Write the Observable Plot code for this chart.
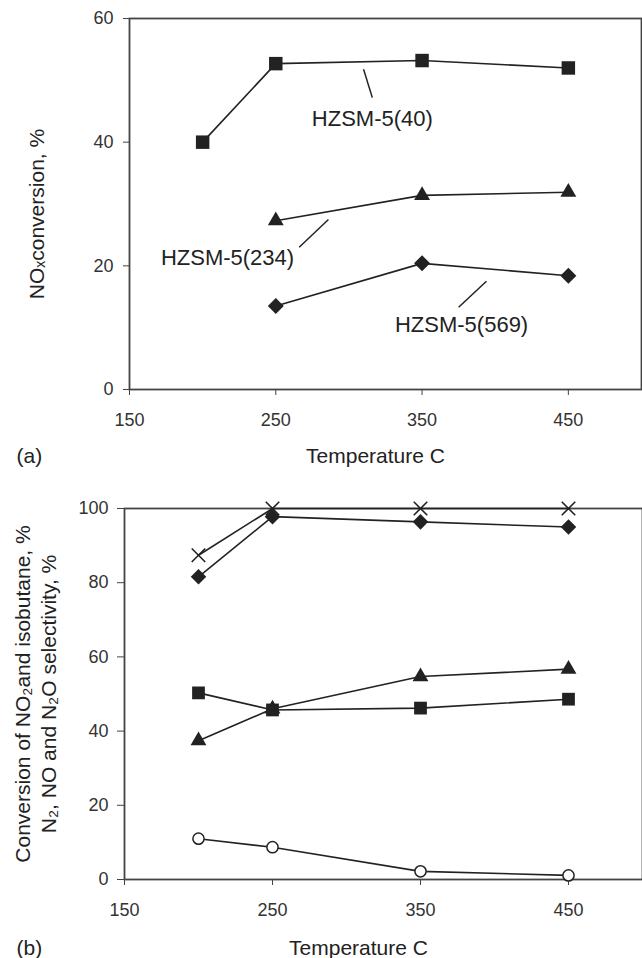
<!DOCTYPE html>
<html>
<head>
<meta charset="utf-8">
<script src="https://cdn.jsdelivr.net/npm/d3@7"></script>
<script src="https://cdn.jsdelivr.net/npm/@observablehq/plot@0.6"></script>
<style>
  html, body { margin: 0; padding: 0; background: #fff; }
  #chart svg { display: block; }
</style>
</head>
<body>
<div id="chart"></div>
<script>
// ---------- Panel (a): NOx conversion ----------
const xTicks = [150, 250, 350, 450];
const yTicksA = [0, 20, 40, 60];
const tempA40 = [200, 250, 350, 450];
const noxA40 = [40.0, 52.7, 53.2, 52.0];
const tempA234 = [250, 350, 450];
const noxA234 = [27.3, 31.4, 31.9];
const tempA569 = [250, 350, 450];
const noxA569 = [13.5, 20.4, 18.4];
const labelNames = ["HZSM-5(40)", "HZSM-5(234)", "HZSM-5(569)"];
const labelX = [316, 217, 377];
const labelY = [43.8, 21.3, 10.4];
const leadX1 = [310, 286, 394];
const leadY1 = [51.8, 27.5, 17.5];
const leadX2 = [316, 266, 375];
const leadY2 = [47.2, 23.0, 13.3];

// ---------- Panel (b): conversions & selectivities ----------
const yTicksB = [0, 20, 40, 60, 80, 100];
const tempB = [200, 250, 350, 450];
const crossB = [87.4, 100, 100, 100];
const diamondB = [81.6, 97.8, 96.4, 95.0];
const triangleB = [37.4, 46.0, 54.7, 56.7];
const squareB = [50.3, 45.7, 46.2, 48.6];
const circleB = [11.0, 8.7, 2.2, 1.1];

const ink = "#222";
const font = "'Liberation Sans', Arial, Helvetica, sans-serif";

function series(xs, ys) { return xs.map((x, i) => ({x, y: ys[i]})); }

const sA40 = series(tempA40, noxA40);
const sA234 = series(tempA234, noxA234);
const sA569 = series(tempA569, noxA569);
const ann = labelNames.map((t, i) => ({t, x: labelX[i], y: labelY[i], x1: leadX1[i], y1: leadY1[i], x2: leadX2[i], y2: leadY2[i]}));

const plotA = Plot.plot({
  width: 642, height: 478,
  marginLeft: 129, marginRight: 1, marginTop: 18, marginBottom: 89,
  x: {domain: [150, 500]},
  y: {domain: [0, 60]},
  style: {fontFamily: font, fontSize: "18px", color: "#333", background: "white", overflow: "visible"},
  marks: [
    Plot.frame({stroke: "#444", strokeWidth: 1.8}),
    Plot.axisX({ticks: xTicks, tickSize: 6, tickPadding: 18, label: null, fontSize: 18, stroke: "#444"}),
    Plot.axisY({ticks: yTicksA, tickSize: 6, tickPadding: 10, label: null, fontSize: 18, stroke: "#444"}),
    Plot.line(sA40, {x: "x", y: "y", stroke: ink, strokeWidth: 1.6}),
    Plot.line(sA234, {x: "x", y: "y", stroke: ink, strokeWidth: 1.6}),
    Plot.line(sA569, {x: "x", y: "y", stroke: ink, strokeWidth: 1.6}),
    Plot.dot(sA40, {x: "x", y: "y", symbol: "square", r: 7.6, fill: ink, stroke: "none"}),
    Plot.dot(sA234, {x: "x", y: "y", symbol: "triangle", r: 5.9, fill: ink, stroke: "none"}),
    Plot.dot(sA569, {x: "x", y: "y", symbol: "diamond2", r: 7.2, fill: ink, stroke: "none"}),
    Plot.link(ann, {x1: "x1", y1: "y1", x2: "x2", y2: "y2", stroke: ink, strokeWidth: 1.5}),
    Plot.text(ann, {x: "x", y: "y", text: "t", fontSize: 22, fill: ink}),
    Plot.text(["NOₓconversion, %"], {frameAnchor: "left", textAnchor: "middle", lineAnchor: "middle", rotate: -90, dx: -92, dy: 10, fontSize: 21, fill: ink}),
    Plot.text(["Temperature C"], {frameAnchor: "bottom", textAnchor: "middle", lineAnchor: "middle", dx: -10, dy: 67, fontSize: 21, fill: ink}),
    Plot.text(["(a)"], {frameAnchor: "bottom-left", textAnchor: "start", lineAnchor: "middle", dx: -113, dy: 67, fontSize: 21, fill: ink})
  ]
});

const sCross = series(tempB, crossB);
const sDiam = series(tempB, diamondB);
const sTri = series(tempB, triangleB);
const sSq = series(tempB, squareB);
const sCirc = series(tempB, circleB);

const plotB = Plot.plot({
  width: 642, height: 480,
  marginLeft: 124, marginRight: 0, marginTop: 30, marginBottom: 79,
  x: {domain: [150, 500]},
  y: {domain: [0, 100]},
  style: {fontFamily: font, fontSize: "18px", color: "#333", background: "white", overflow: "visible"},
  marks: [
    Plot.frame({stroke: "#444", strokeWidth: 1.8}),
    Plot.axisX({ticks: xTicks, tickSize: 6, tickPadding: 18, label: null, fontSize: 18, stroke: "#444"}),
    Plot.axisY({ticks: yTicksB, tickSize: 7, tickPadding: 9, label: null, fontSize: 18, stroke: "#444"}),
    Plot.line(sCross, {x: "x", y: "y", stroke: ink, strokeWidth: 1.6}),
    Plot.line(sDiam, {x: "x", y: "y", stroke: ink, strokeWidth: 1.6}),
    Plot.line(sTri, {x: "x", y: "y", stroke: ink, strokeWidth: 1.6}),
    Plot.line(sSq, {x: "x", y: "y", stroke: ink, strokeWidth: 1.6}),
    Plot.line(sCirc, {x: "x", y: "y", stroke: ink, strokeWidth: 1.6}),
    Plot.dot(sCross, {x: "x", y: "y", symbol: "times", r: 6.2, stroke: ink, strokeWidth: 1.6}),
    Plot.dot(sDiam, {x: "x", y: "y", symbol: "diamond2", r: 7.0, fill: ink, stroke: "none"}),
    Plot.dot(sTri, {x: "x", y: "y", symbol: "triangle", r: 5.9, fill: ink, stroke: "none"}),
    Plot.dot(sSq, {x: "x", y: "y", symbol: "square", r: 7.2, fill: ink, stroke: "none"}),
    Plot.dot(sCirc, {x: "x", y: "y", symbol: "circle", r: 5.6, fill: "white", stroke: ink, strokeWidth: 1.5}),
    Plot.text(["Conversion of NO₂and isobutane, %\nN₂, NO and N₂O selectivity, %"], {frameAnchor: "left", textAnchor: "middle", lineAnchor: "middle", rotate: -90, dx: -90, dy: 0, lineHeight: 1.24, fontSize: 21, fill: ink}),
    Plot.text(["Temperature C"], {frameAnchor: "bottom", textAnchor: "middle", lineAnchor: "middle", dx: -25, dy: 69, fontSize: 21, fill: ink}),
    Plot.text(["(b)"], {frameAnchor: "bottom-left", textAnchor: "start", lineAnchor: "middle", dx: -108, dy: 69, fontSize: 21, fill: ink})
  ]
});

const root = document.getElementById("chart");
root.appendChild(plotA);
root.appendChild(plotB);
</script>
</body>
</html>
